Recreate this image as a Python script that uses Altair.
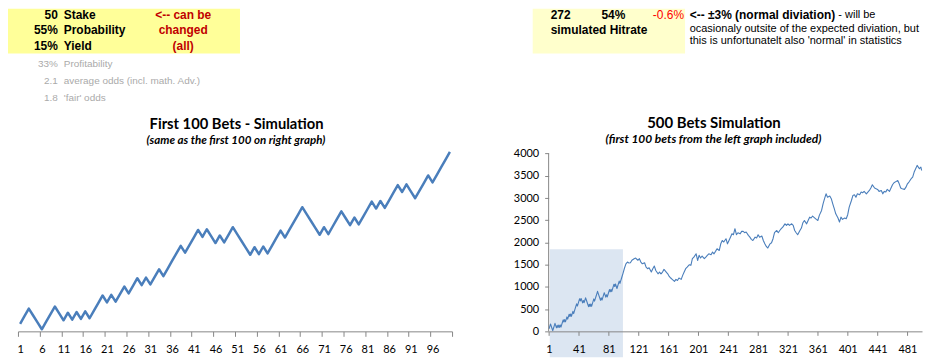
import altair as alt
import pandas as pd

# ---------------- values ----------------
input_values = ["50", "55%", "15%"]
input_labels = ["Stake", "Probability", "Yield"]
input_note = ["<-- can be", "changed", "(all)"]
derived_values = ["33%", "2.1", "1.8"]
derived_labels = ["Profitability", "average odds (incl. math. Adv.)", "'fair' odds"]
hit_count = "272"
hit_rate = "54%"
hit_deviation = "-0.6%"
hit_label = "simulated Hitrate"
dev_note_bold = "<-- \u00b13% (normal diviation)"
dev_note_rest = "- will be"
dev_note_lines = ["ocasionaly outsite of the expected diviation, but",
                  "this is unfortunatelt also 'normal' in statistics"]

left_title = "First 100 Bets - Simulation"
left_subtitle = "(same as the first 100 on right graph)"
right_title = "500 Bets Simulation"
right_subtitle = "(first 100 bets  from the left graph  included)"

# cumulative profit of the first 100 bets (left graph, same as start of right graph)
first100 = [55, 110, 165, 115, 65, 15, 70, 125, 180, 130,
            80, 135, 85, 140, 90, 145, 95, 150, 205, 260,
            210, 265, 215, 270, 325, 275, 330, 385, 335, 390,
            340, 395, 450, 400, 455, 510, 565, 620, 570, 625,
            680, 735, 685, 740, 690, 640, 695, 645, 700, 755,
            705, 655, 605, 555, 610, 560, 615, 565, 620, 675,
            730, 680, 735, 790, 845, 900, 850, 800, 750, 700,
            755, 705, 760, 815, 870, 820, 770, 825, 775, 830,
            885, 940, 890, 945, 895, 950, 1005, 1060, 1010, 1065,
            1015, 965, 1020, 1075, 1130, 1080, 1135, 1190, 1245, 1300]

# bets 101-500
later_bets = [102, 104, 106, 108, 110, 112, 115, 117, 120, 122, 124, 126, 129, 131, 133, 135,
              138, 140, 142, 144, 147, 149, 151, 153, 155, 158, 160, 162, 164, 166, 169, 171,
              173, 175, 178, 180, 182, 184, 186, 189, 191, 193, 195, 198, 200, 202, 204, 206,
              209, 211, 213, 215, 218, 220, 222, 224, 226, 229, 231, 233, 235, 238, 240, 242,
              244, 246, 248, 250, 252, 254, 257, 259, 261, 263, 265, 268, 270, 272, 274, 277,
              279, 281, 283, 286, 288, 290, 292, 294, 297, 299, 301, 303, 306, 308, 310, 312,
              314, 317, 319, 321, 323, 326, 328, 330, 332, 334, 337, 339, 341, 343, 346, 348,
              350, 352, 354, 357, 359, 361, 363, 366, 368, 370, 372, 374, 377, 379, 381, 383,
              385, 388, 390, 392, 394, 397, 399, 401, 403, 406, 408, 410, 412, 414, 417, 419,
              421, 423, 426, 428, 430, 432, 434, 437, 439, 441, 443, 446, 448, 450, 452, 454,
              457, 459, 461, 463, 466, 468, 470, 472, 474, 477, 479, 481, 483, 486, 488, 490,
              492, 494, 497, 499, 500]
later_values = [1420, 1520, 1560, 1540, 1545, 1600, 1635, 1650, 1600, 1635, 1560, 1520, 1545, 1445, 1410, 1430,
                1335, 1410, 1470, 1370, 1295, 1335, 1295, 1335, 1395, 1335, 1295, 1235, 1200, 1170, 1125, 1170,
                1145, 1200, 1170, 1260, 1335, 1410, 1445, 1500, 1485, 1635, 1670, 1745, 1595, 1710, 1650, 1695,
                1635, 1670, 1710, 1745, 1725, 1785, 1745, 1800, 1860, 1820, 1970, 2045, 2010, 2085, 1970, 2045,
                2120, 2195, 2175, 2310, 2175, 2220, 2195, 2250, 2250, 2220, 2235, 2160, 2120, 2070, 2045, 2120,
                2100, 2175, 2120, 2145, 2045, 1970, 1910, 1875, 1970, 1995, 2085, 2220, 2270, 2220, 2270, 2310,
                2345, 2420, 2385, 2420, 2385, 2420, 2385, 2270, 2220, 2175, 2270, 2325, 2445, 2495, 2420, 2495,
                2570, 2550, 2595, 2550, 2520, 2495, 2610, 2720, 2870, 2985, 3095, 3020, 3045, 2985, 2870, 2760,
                2645, 2550, 2460, 2570, 2520, 2550, 2535, 2625, 2795, 2945, 3060, 3075, 3020, 3095, 3075, 3135,
                3120, 3150, 3095, 3135, 3170, 3225, 3300, 3225, 3210, 3195, 3150, 3170, 3095, 3150, 3135, 3195,
                3150, 3225, 3300, 3345, 3375, 3395, 3320, 3225, 3210, 3195, 3245, 3320, 3360, 3435, 3470, 3585,
                3660, 3735, 3660, 3695, 3620]

left_tick_values = [0.5 + 5 * i for i in range(21)]
right_tick_values = [1, 41, 81, 121, 161, 201, 241, 281, 321, 361, 401, 441, 481]
y_tick_values = [0, 500, 1000, 1500, 2000, 2500, 3000, 3500, 4000]
highlight_bets = [2, 100]
highlight_top = 1850

left_df = pd.DataFrame({"bet": list(range(1, 101)), "profit": first100})
right_df = pd.DataFrame({"bet": list(range(1, 101)) + later_bets,
                         "profit": first100 + later_values})
highlight_df = pd.DataFrame({"bet": [highlight_bets[0]], "end": [highlight_bets[1]],
                             "profit": [highlight_top]})

# ---------------- styling ----------------
BLUE = "#4a7ebb"
AXC = "#868686"
HDR = "Liberation Sans"
TTL = "Lato"
WL, WR, H = 436, 375, 194
one = pd.DataFrame({"k": [0]})


def note(text, x, y, size=12, weight="normal", color="black", align="left",
         font=HDR, style="normal"):
    return alt.Chart(one).mark_text(
        text=text, align=align, baseline="middle", fontSize=size, fontWeight=weight,
        color=color, font=font, fontStyle=style
    ).encode(x=alt.value(x), y=alt.value(y))


def box(x1, x2, y1, y2, color):
    return alt.Chart(one).mark_rect(color=color).encode(
        x=alt.value(x1), x2=alt.value(x2), y=alt.value(y1), y2=alt.value(y2))


# ---------------- left panel ----------------
row_y = [-124, -109, -93]
grey_y = [-75, -57, -40.5]
left_layers = [box(-10, 223, -130, -85, "#ffff99")]
for v, lab, red, y in zip(input_values, input_labels, input_note, row_y):
    left_layers.append(note(v, 40, y, weight="bold", align="right"))
    left_layers.append(note(lab, 46, y, weight="bold"))
    left_layers.append(note(red, 166, y, weight="bold", color="#c00000", align="center"))
for v, lab, y in zip(derived_values, derived_labels, grey_y):
    left_layers.append(note(v, 40, y, size=10, color="#aaaaaa", align="right"))
    left_layers.append(note(lab, 46, y, size=10, color="#aaaaaa"))
left_layers.append(note(left_title, 219.5, -13, size=14.8, weight="bold", font=TTL, align="center"))
left_layers.append(note(left_subtitle, 219, 2.7, size=11.6, weight="bold", font=TTL,
                        style="italic", align="center"))

left_line = alt.Chart(left_df).mark_line(color=BLUE, strokeWidth=2.5, strokeJoin="round").encode(
    x=alt.X("bet:Q", scale=alt.Scale(domain=[0.5, 100.5], nice=False, zero=False),
            axis=alt.Axis(values=left_tick_values, title=None, grid=False, domainColor=AXC,
                          tickColor=AXC, tickSize=5, labelFont=TTL, labelFontSize=11,
                          labelColor="#000000", labelFlush=False, labelPadding=7.5,
                          labelOffset=2.18, labelOverlap=False,
                          labelExpr="datum.value > 100 ? '' : '' + (datum.value + 0.5)")),
    y=alt.Y("profit:Q", scale=alt.Scale(domain=[0, 1400], nice=False), axis=None),
)
left = alt.layer(*left_layers, left_line).properties(width=WL, height=H)

# ---------------- right panel ----------------
right_layers = [box(-16, 137, -130, -85, "#ffffcc"),
                note(hit_count, 2, -124, weight="bold"),
                note(hit_rate, 53, -124, weight="bold"),
                note(hit_deviation, 136, -124, color="#ff0000", align="right"),
                note(hit_label, 2, -109, weight="bold"),
                note(dev_note_bold, 141.7, -124, weight="bold"),
                note(dev_note_rest, 291, -124, size=11),
                note(dev_note_lines[0], 141.7, -109.7, size=11),
                note(dev_note_lines[1], 141.7, -98, size=11),
                note(right_title, 166, -15.3, size=15, weight="bold", font=TTL, align="center"),
                note(right_subtitle, 165.5, 1.3, size=12, weight="bold", font=TTL,
                     style="italic", align="center")]

xs = alt.Scale(domain=[0.5, 500.5], nice=False, zero=False)
ys = alt.Scale(domain=[0, 4347], nice=False)
x_axis_r = alt.Axis(values=right_tick_values, title=None, grid=False, domainColor=AXC,
                    tickColor=AXC, tickSize=4, labelFont=TTL, labelFontSize=11,
                    labelColor="#000000", labelFlush=False, labelPadding=8.5,
                    labelOverlap=False, zindex=1)
y_axis_r = alt.Axis(values=y_tick_values, title=None, grid=False, domain=False,
                    tickColor=AXC, tickSize=4, labelFont=TTL, labelFontSize=11,
                    labelColor="#000000", labelPadding=6, format="d",
                    labelOverlap=False, labelFlush=False, zindex=1)

highlight = alt.Chart(highlight_df).mark_rect(color="#dce6f2").encode(
    x=alt.X("bet:Q", scale=xs, axis=x_axis_r), x2="end:Q",
    y=alt.Y("profit:Q", scale=ys, axis=y_axis_r), y2=alt.value(H + 26))

y_axis_line = alt.Chart(one).mark_rule(color=AXC).encode(
    x=alt.value(0),
    y=alt.Y(datum=y_tick_values[0], type="quantitative", scale=ys, axis=y_axis_r),
    y2=alt.Y2(datum=y_tick_values[-1]))

right_line = alt.Chart(right_df).mark_line(color=BLUE, strokeWidth=1.1, strokeJoin="round").encode(
    x=alt.X("bet:Q", scale=xs, axis=x_axis_r),
    y=alt.Y("profit:Q", scale=ys, axis=y_axis_r),
)
right = alt.layer(highlight, *right_layers, right_line, y_axis_line).properties(width=WR, height=H)

chart = alt.hconcat(left, right, spacing=97, bounds="flush").properties(
    padding=0, background="white"
).configure_view(stroke=None)

chart.save("out.html", embed_options={"renderer": "svg", "actions": False})
